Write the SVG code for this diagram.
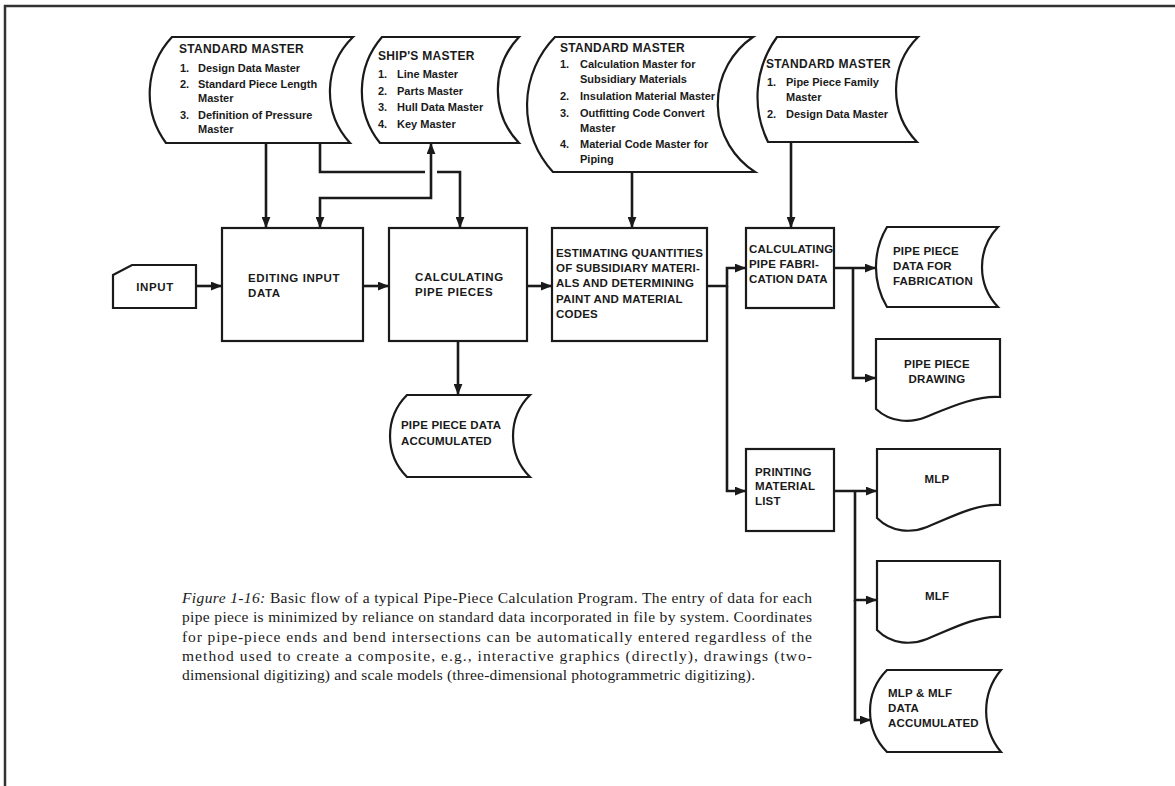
<svg xmlns="http://www.w3.org/2000/svg" width="1175" height="786" viewBox="0 0 1175 786">
<defs>
<style>
.sh{fill:#fff;stroke:#1a1a1a;stroke-width:2.2;stroke-linejoin:miter}
.cn{fill:none;stroke:#1a1a1a;stroke-width:2.6}
.t{font-family:"Liberation Sans",Arial,sans-serif;font-weight:bold;font-size:11.5px;fill:#1a1a1a;letter-spacing:0.2px}
.tb{font-family:"Liberation Sans",Arial,sans-serif;font-weight:bold;font-size:11.5px;fill:#1a1a1a;letter-spacing:0.6px}
.hd{font-family:"Liberation Sans",Arial,sans-serif;font-weight:bold;font-size:12px;fill:#1a1a1a;letter-spacing:0.3px}
.it{font-family:"Liberation Sans",Arial,sans-serif;font-weight:bold;font-size:11px;fill:#1a1a1a}
.cap{font-family:"Liberation Serif","Times New Roman",serif;font-size:15.5px;fill:#1a1a1a}
.frame{fill:none;stroke:#333;stroke-width:2.5}
</style>
<marker id="ah" viewBox="0 0 10 8" refX="10" refY="4" markerWidth="11" markerHeight="9" markerUnits="userSpaceOnUse" orient="auto-start-reverse">
<path d="M0,0 L10,4 L0,8 Z" fill="#1a1a1a"/>
</marker>
</defs>
<rect width="1175" height="786" fill="#fff"/>
<path class="frame" d="M5,786 V6 H1175"/>

<g id="master1">
<path class="sh" d="M172,37 H353 A76,76 0 0 0 350,143 H166 A83,83 0 0 1 172,37 Z"/>
<text class="hd" x="179" y="53">STANDARD MASTER</text>
<text class="it" x="180" y="72">1.</text><text class="it" x="198" y="72">Design Data Master</text>
<text class="it" x="180" y="88">2.</text><text class="it" x="198" y="88">Standard Piece Length</text>
<text class="it" x="198" y="102">Master</text>
<text class="it" x="180" y="119">3.</text><text class="it" x="198" y="119">Definition of Pressure</text>
<text class="it" x="198" y="133">Master</text>
</g>

<g id="master2">
<path class="sh" d="M382,37 H519 A77,77 0 0 0 519,143 H380 A83,83 0 0 1 382,37 Z"/>
<text class="hd" x="378" y="60">SHIP'S MASTER</text>
<text class="it" x="378" y="78">1.</text><text class="it" x="397" y="78">Line Master</text>
<text class="it" x="378" y="95">2.</text><text class="it" x="397" y="95">Parts Master</text>
<text class="it" x="378" y="111">3.</text><text class="it" x="397" y="111">Hull Data Master</text>
<text class="it" x="378" y="128">4.</text><text class="it" x="397" y="128">Key Master</text>
</g>

<g id="master3">
<path class="sh" d="M555,37 H753 A81,81 0 0 0 755,172 H553 A98,98 0 0 1 555,37 Z"/>
<text class="hd" x="560" y="52">STANDARD MASTER</text>
<text class="it" x="560" y="68">1.</text><text class="it" x="580" y="68">Calculation Master for</text>
<text class="it" x="580" y="83">Subsidiary Materials</text>
<text class="it" x="560" y="100">2.</text><text class="it" x="580" y="100">Insulation Material Master</text>
<text class="it" x="560" y="117">3.</text><text class="it" x="580" y="117">Outfitting Code Convert</text>
<text class="it" x="580" y="132">Master</text>
<text class="it" x="560" y="148">4.</text><text class="it" x="580" y="148">Material Code Master for</text>
<text class="it" x="580" y="163">Piping</text>
</g>

<g id="master4">
<path class="sh" d="M777,37 H918 A75,75 0 0 0 917,142 H768 A102,102 0 0 1 777,37 Z"/>
<text class="hd" x="766" y="68">STANDARD MASTER</text>
<text class="it" x="767" y="86">1.</text><text class="it" x="786" y="86">Pipe Piece Family</text>
<text class="it" x="786" y="101">Master</text>
<text class="it" x="767" y="118">2.</text><text class="it" x="786" y="118">Design Data Master</text>
</g>

<g id="input">
<path class="sh" d="M113,275 L132,265 H196 V308 H113 Z"/>
<text class="tb" x="155" y="291" text-anchor="middle">INPUT</text>
</g>

<g id="editing">
<rect class="sh" x="222" y="228" width="141" height="113"/>
<text class="tb" x="248" y="282">EDITING INPUT</text>
<text class="tb" x="248" y="297">DATA</text>
</g>

<g id="calcpipe">
<rect class="sh" x="389" y="228" width="138" height="113"/>
<text class="tb" x="415" y="281">CALCULATING</text>
<text class="tb" x="415" y="296">PIPE PIECES</text>
</g>

<g id="estimating">
<rect class="sh" x="552" y="228" width="155" height="113"/>
<text class="t" x="556" y="257">ESTIMATING QUANTITIES</text>
<text class="t" x="556" y="272">OF SUBSIDIARY MATERI-</text>
<text class="t" x="556" y="287">ALS AND DETERMINING</text>
<text class="t" x="556" y="303">PAINT AND MATERIAL</text>
<text class="t" x="556" y="318">CODES</text>
</g>

<g id="calcfab">
<rect class="sh" x="746" y="228" width="88" height="80"/>
<text class="t" x="749" y="253">CALCULATING</text>
<text class="t" x="749" y="268">PIPE FABRI-</text>
<text class="t" x="749" y="283">CATION DATA</text>
</g>

<g id="ppfab">
<path class="sh" d="M887,227 H998 A58,58 0 0 0 998,307 H887 A78,78 0 0 1 887,227 Z"/>
<text class="t" x="893" y="255">PIPE PIECE</text>
<text class="t" x="893" y="270">DATA FOR</text>
<text class="t" x="893" y="285">FABRICATION</text>
</g>

<g id="ppdrawing">
<path class="sh" transform="translate(876,339)" d="M0,0 H124 V58 C100,56 70,70 50,78 C35,84 15,84 0,70 Z"/>
<text class="t" x="937" y="368" text-anchor="middle">PIPE PIECE</text>
<text class="t" x="937" y="383" text-anchor="middle">DRAWING</text>
</g>

<g id="ppaccum">
<path class="sh" d="M407,395 H530 A58,58 0 0 0 530,477 H407 A58,58 0 0 1 407,395 Z"/>
<text class="t" x="401" y="429">PIPE PIECE DATA</text>
<text class="t" x="401" y="445">ACCUMULATED</text>
</g>

<g id="printing">
<rect class="sh" x="746" y="449" width="88" height="82"/>
<text class="t" x="755" y="476">PRINTING</text>
<text class="t" x="755" y="490">MATERIAL</text>
<text class="t" x="755" y="505">LIST</text>
</g>

<g id="mlp">
<path class="sh" transform="translate(877,449)" d="M0,0 H123 V56 C100,54 70,70 50,78 C35,84 15,84 0,69 Z"/>
<text class="t" x="937" y="483" text-anchor="middle">MLP</text>
</g>

<g id="mlf">
<path class="sh" transform="translate(877,561)" d="M0,0 H123 V56 C100,54 70,70 50,78 C35,84 15,84 0,69 Z"/>
<text class="t" x="937" y="600" text-anchor="middle">MLF</text>
</g>

<g id="mlpmlf">
<path class="sh" d="M887,670 H1001 A64,64 0 0 0 1001,752 H887 A58,58 0 0 1 887,670 Z"/>
<text class="t" x="888" y="697">MLP &amp; MLF</text>
<text class="t" x="888" y="712">DATA</text>
<text class="t" x="888" y="727" letter-spacing="0">ACCUMULATED</text>
</g>

<g id="connectors">
<path class="cn" marker-end="url(#ah)" d="M196,286 H222"/>
<path class="cn" marker-end="url(#ah)" d="M363,286 H389"/>
<path class="cn" marker-end="url(#ah)" d="M527,286 H552"/>
<path class="cn" marker-end="url(#ah)" d="M707,286 H727 V268 H746"/>
<path class="cn" marker-end="url(#ah)" d="M727,286 V491 H746"/>
<path class="cn" marker-end="url(#ah)" d="M834,268 H876"/>
<path class="cn" marker-end="url(#ah)" d="M853,268 V378 H876"/>
<path class="cn" marker-end="url(#ah)" d="M458,341 V395"/>
<path class="cn" marker-end="url(#ah)" d="M266,143 V228"/>
<path class="cn" marker-end="url(#ah)" d="M320,143 V172 H425 M437,172 H460 V228"/>
<path class="cn" marker-start="url(#ah)" marker-end="url(#ah)" d="M431,143 V198 H320 V228"/>
<path class="cn" marker-end="url(#ah)" d="M632,172 V228"/>
<path class="cn" marker-end="url(#ah)" d="M791,142 V228"/>
<path class="cn" marker-end="url(#ah)" d="M834,491 H877"/>
<path class="cn" marker-end="url(#ah)" d="M855,491 V600 H877"/>
<path class="cn" marker-end="url(#ah)" d="M855,600 V720 H871"/>
</g>

<g id="caption">
<text class="cap" x="182" y="603" textLength="630" lengthAdjust="spacing"><tspan font-style="italic">Figure 1-16:</tspan> Basic flow of a typical Pipe-Piece Calculation Program. The entry of data for each</text>
<text class="cap" x="182" y="622" textLength="630" lengthAdjust="spacing">pipe piece is minimized by reliance on standard data incorporated in file by system. Coordinates</text>
<text class="cap" x="182" y="642" textLength="630" lengthAdjust="spacing">for pipe-piece ends and bend intersections can be automatically entered regardless of the</text>
<text class="cap" x="182" y="661" textLength="630" lengthAdjust="spacing">method used to create a composite, e.g., interactive graphics (directly), drawings (two-</text>
<text class="cap" x="182" y="680" textLength="573" lengthAdjust="spacing">dimensional digitizing) and scale models (three-dimensional photogrammetric digitizing).</text>
</g>
</svg>
